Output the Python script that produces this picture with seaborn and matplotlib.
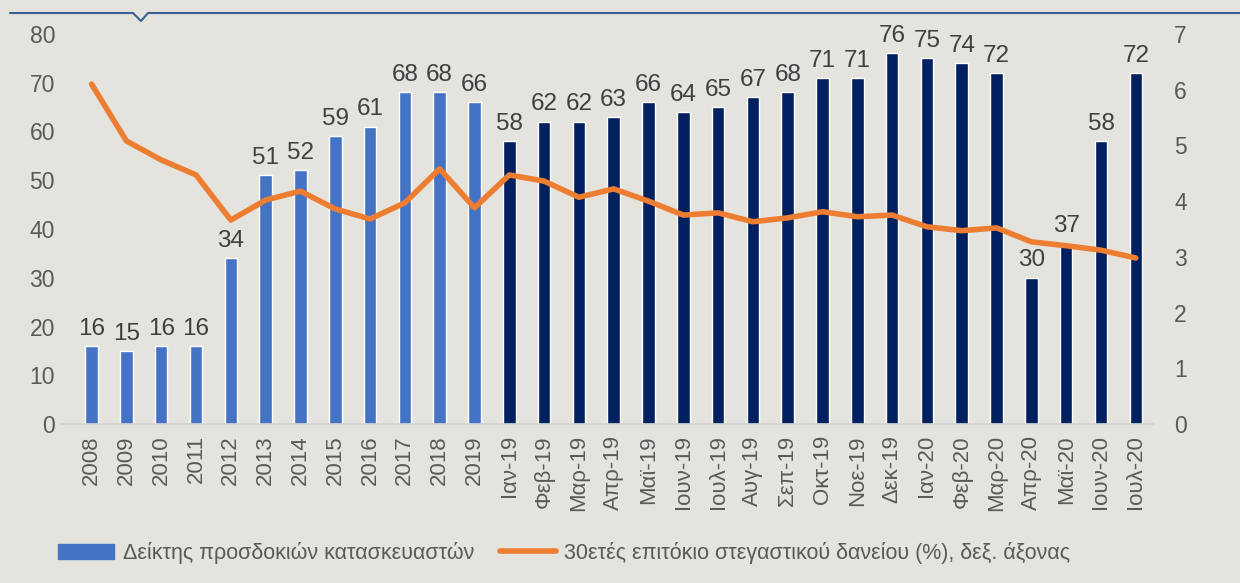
import numpy as np
import pandas as pd
import matplotlib.pyplot as plt
from matplotlib.lines import Line2D
from matplotlib.patches import Patch
import seaborn as sns

# data
years = ["2008", "2009", "2010", "2011", "2012", "2013", "2014", "2015",
         "2016", "2017", "2018", "2019"]
months = ["Ιαν-19", "Φεβ-19", "Μαρ-19", "Απρ-19", "Μαϊ-19", "Ιουν-19", "Ιουλ-19",
          "Αυγ-19", "Σεπ-19", "Οκτ-19", "Νοε-19", "Δεκ-19", "Ιαν-20", "Φεβ-20",
          "Μαρ-20", "Απρ-20", "Μαϊ-20", "Ιουν-20", "Ιουλ-20"]
index_years = [16, 15, 16, 16, 34, 51, 52, 59, 61, 68, 68, 66]
index_months = [58, 62, 62, 63, 66, 64, 65, 67, 68, 71, 71, 76, 75, 74, 72,
                30, 37, 58, 72]
rate_years = [6.10, 5.08, 4.74, 4.47, 3.66, 4.02, 4.18, 3.86, 3.68, 3.97, 4.58, 3.88]
rate_months = [4.47, 4.36, 4.07, 4.22, 4.00, 3.75, 3.79, 3.63, 3.70, 3.81, 3.72,
               3.75, 3.54, 3.47, 3.52, 3.27, 3.20, 3.12, 2.98]

bar_label = "Δείκτης προσδοκιών κατασκευαστών"
line_label = "30ετές επιτόκιο στεγαστικού δανείου (%), δεξ. άξονας"

light_blue = "#4472c4"
navy = "#002060"
orange = "#ed7d31"
bg = "#e4e3de"
txt = "#595959"

df = pd.DataFrame({
    "cat": years + months,
    "index": index_years + index_months,
    "rate": rate_years + rate_months,
})
df["pos"] = np.arange(len(df))
colors = [light_blue] * len(years) + [navy] * len(months)

sns.set_theme(style="white")
plt.rcParams["font.family"] = ["Liberation Sans", "DejaVu Sans"]

fig = plt.figure(figsize=(12.4, 5.83), dpi=100, facecolor=bg)
ax = fig.add_axes([0.05, 0.2727, 0.88, 0.669])
ax.set_facecolor(bg)

sns.barplot(data=df, x="cat", y="index", hue="cat", palette=colors,
            width=0.36, legend=False, ax=ax, saturation=1)
for i, v in enumerate(df["index"]):
    ax.text(i, v + 1.3, str(v), ha="center", va="bottom", fontsize=17.5,
            color="#404040")

ax.set_ylim(0, 80)
ax.set_xlim(-0.85, 30.5)
ax.set_yticks(range(0, 81, 10))
ax.set_xlabel("")
ax.set_ylabel("")
ax.tick_params(axis="y", labelsize=16.5, labelcolor=txt, length=0, pad=5)
ax.tick_params(axis="x", labelsize=16, labelcolor=txt, length=0, pad=8,
               labelrotation=90)
for s in ["top", "right", "left"]:
    ax.spines[s].set_visible(False)
ax.spines["bottom"].set_color("#d2d2d2")
ax.spines["bottom"].set_linewidth(1.2)

ax2 = ax.twinx()
sns.lineplot(data=df, x="pos", y="rate", color=orange, linewidth=4,
             ax=ax2, solid_capstyle="round")
ax2.set_ylim(0, 7)
ax2.set_xlim(-0.85, 30.5)
ax2.set_yticks(range(0, 8))
ax2.set_ylabel("")
ax2.tick_params(axis="y", labelsize=16.5, labelcolor=txt, length=0, pad=15)
for s in ax2.spines.values():
    s.set_visible(False)

# thin rule with a notch along the top edge
fig.add_artist(Line2D([10 / 1240, 133 / 1240, 141 / 1240, 148 / 1240, 1.0],
                      [1 - 13 / 583, 1 - 13 / 583, 1 - 21 / 583, 1 - 13 / 583, 1 - 13 / 583],
                      color="#3a6190", linewidth=1.5, transform=fig.transFigure))

handles = [Patch(facecolor=light_blue, edgecolor=light_blue),
           Line2D([0], [0], color=orange, linewidth=4)]
fig.legend(handles, [bar_label, line_label], loc="center",
           bbox_to_anchor=(0.455, 0.052), ncol=2, frameon=False, fontsize=15.5,
           labelcolor=txt, handlelength=2.6, columnspacing=1.2, handletextpad=0.4)

fig.savefig("out.png", dpi=100, facecolor=bg)
